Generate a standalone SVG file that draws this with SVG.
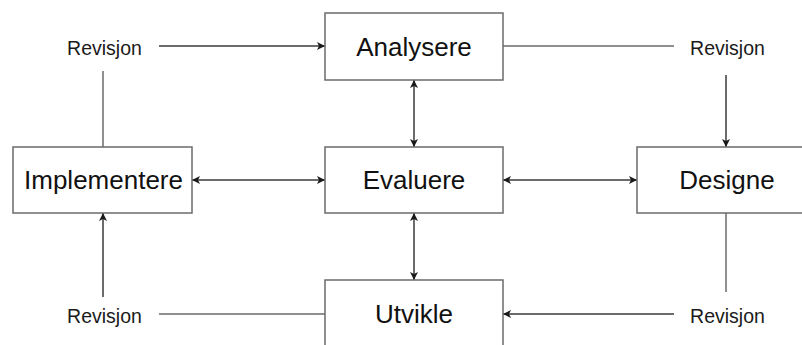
<svg xmlns="http://www.w3.org/2000/svg" width="802" height="345" viewBox="0 0 802 345">
  <defs>
    <marker id="arrow" viewBox="0 0 10 10" refX="10" refY="5" markerWidth="8" markerHeight="8" markerUnits="userSpaceOnUse" orient="auto-start-reverse">
      <path d="M0,0 L10,5 L0,10 L2.5,5 Z" fill="#1a1a1a"/>
    </marker>
    <style>
      .box { fill: #ffffff; stroke: #6b6b6b; stroke-width: 1.5; }
      .label { font-family: "Liberation Sans", Arial, sans-serif; font-size: 26px; fill: #111111; text-anchor: middle; dominant-baseline: central; }
      .rev { font-family: "Liberation Sans", Arial, sans-serif; font-size: 19.5px; fill: #1a1a1a; text-anchor: middle; dominant-baseline: central; }
      .line { fill: none; stroke: #3a3a3a; stroke-width: 1.5; }
      .grey { stroke: #6b6b6b; }
    </style>
  </defs>
  <rect width="802" height="345" fill="#ffffff"/>

  <!-- connectors -->
  <g id="connectors">
    <!-- revision loop -->
    <line class="line" x1="159" y1="46" x2="325" y2="46" marker-end="url(#arrow)"/>
    <line class="line grey" x1="103" y1="147" x2="103" y2="71"/>
    <line class="line grey" x1="503" y1="46" x2="674" y2="46"/>
    <line class="line" x1="726" y1="75" x2="726" y2="147" marker-end="url(#arrow)"/>
    <line class="line grey" x1="726" y1="213" x2="726" y2="292"/>
    <line class="line" x1="674" y1="314" x2="503" y2="314" marker-end="url(#arrow)"/>
    <line class="line grey" x1="325" y1="314" x2="159" y2="314"/>
    <line class="line" x1="103" y1="297" x2="103" y2="213" marker-end="url(#arrow)"/>
    <!-- two-way links with Evaluere -->
    <line class="line" x1="414" y1="80" x2="414" y2="147" marker-start="url(#arrow)" marker-end="url(#arrow)"/>
    <line class="line" x1="414" y1="213" x2="414" y2="280" marker-start="url(#arrow)" marker-end="url(#arrow)"/>
    <line class="line" x1="192" y1="180" x2="325" y2="180" marker-start="url(#arrow)" marker-end="url(#arrow)"/>
    <line class="line" x1="503" y1="180" x2="637" y2="180" marker-start="url(#arrow)" marker-end="url(#arrow)"/>
  </g>

  <g id="analysere">
    <rect class="box" x="325" y="13" width="178" height="67"/>
    <text class="label" x="414" y="46.5">Analysere</text>
  </g>
  <g id="evaluere">
    <rect class="box" x="325" y="147" width="178" height="66"/>
    <text class="label" x="414" y="180">Evaluere</text>
  </g>
  <g id="implementere">
    <rect class="box" x="13" y="147" width="179" height="66"/>
    <text class="label" x="103.5" y="180">Implementere</text>
  </g>
  <g id="designe">
    <rect class="box" x="637" y="147" width="178" height="66"/>
    <text class="label" x="727" y="180">Designe</text>
  </g>
  <g id="utvikle">
    <rect class="box" x="325" y="280" width="178" height="67"/>
    <text class="label" x="414" y="313.5">Utvikle</text>
  </g>

  <g id="revisjon-labels">
    <text class="rev" x="104.5" y="48">Revisjon</text>
    <text class="rev" x="727.5" y="48">Revisjon</text>
    <text class="rev" x="104.5" y="315.5">Revisjon</text>
    <text class="rev" x="727.5" y="315.5">Revisjon</text>
  </g>
</svg>
